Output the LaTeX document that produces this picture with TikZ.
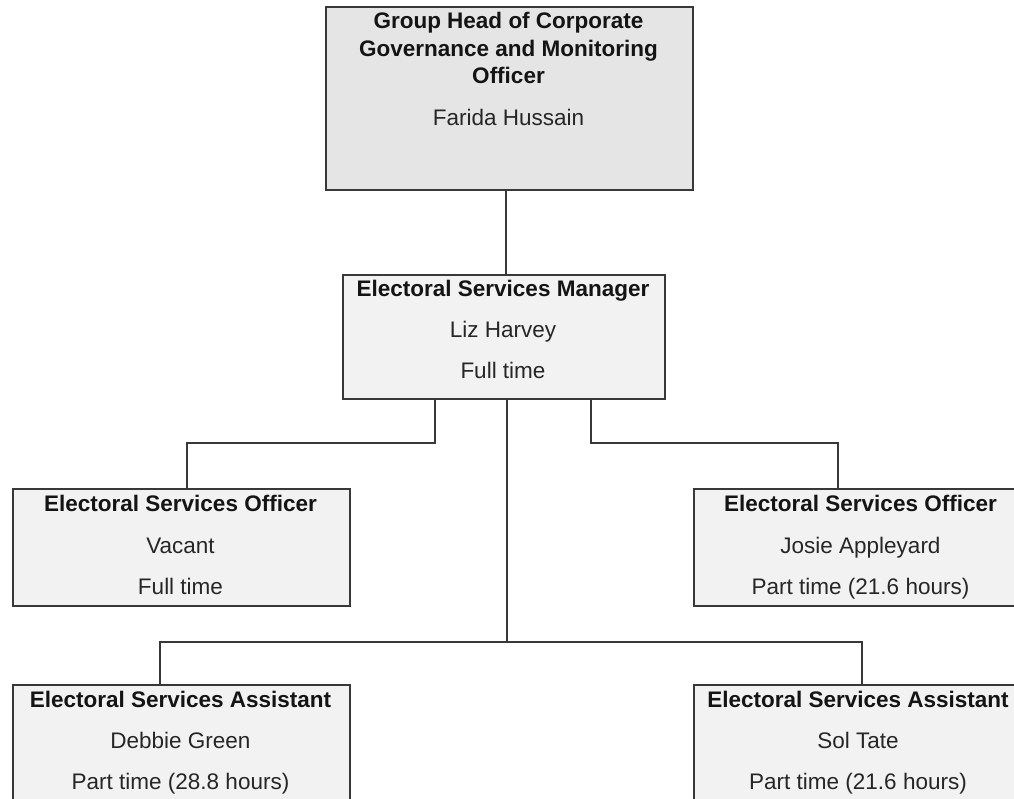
\documentclass[tikz,border=0pt]{standalone}
\usepackage{fontspec}
\setmainfont{Liberation Sans}
\begin{document}
\begin{tikzpicture}[x=1pt,y=-1pt,
  box/.style={draw=black!78, line width=1.5pt, fill=black!5, rectangle,
    inner sep=0pt, anchor=north west},
  headbox/.style={box, fill=black!10},
  conn/.style={draw=black!78, line width=1.4pt},
  ttl/.style={anchor=base, inner sep=0pt, font=\fontsize{22.5}{26}\selectfont\bfseries, text=black!92},
  txt/.style={anchor=base, inner sep=0pt, font=\fontsize{22.5}{26}\selectfont, text=black!85}]
  \clip (0,0) rectangle (1014,798);

  % boxes
  \node[headbox, minimum width=367pt, minimum height=183pt] (top) at (325,6) {};
  \node[box, minimum width=322pt, minimum height=124pt] (mgr) at (342,274) {};
  \node[box, minimum width=337pt, minimum height=117pt] (off1) at (12,488) {};
  \node[box, minimum width=337pt, minimum height=117pt] (off2) at (693,488) {};
  \node[box, minimum width=337pt, minimum height=140pt] (ast1) at (12,684) {};
  \node[box, minimum width=337pt, minimum height=140pt] (ast2) at (693,684) {};

  % texts
  \node[ttl] (topa) at (508.5,28.5) {Group Head of Corporate};
  \node[ttl] (topb) at (508.5,56) {Governance and Monitoring};
  \node[ttl] (topc) at (508.5,83) {Officer};
  \node[txt] (topd) at (508.5,125) {Farida Hussain};

  \node[ttl] (mgra) at (503,296.5) {Electoral Services Manager};
  \node[txt] (mgrb) at (503,337.5) {Liz Harvey};
  \node[txt] (mgrc) at (503,378) {Full time};

  \node[ttl] (off1a) at (180.5,511.5) {Electoral Services Officer};
  \node[txt] (off1b) at (180.5,553) {Vacant};
  \node[txt] (off1c) at (180.5,594) {Full time};

  \node[ttl] (off2a) at (860.5,511.5) {Electoral Services Officer};
  \node[txt] (off2b) at (860.5,553) {Josie Appleyard};
  \node[txt] (off2c) at (860.5,594) {Part time (21.6 hours)};

  \node[ttl] (ast1a) at (180.5,707.5) {Electoral Services Assistant};
  \node[txt] (ast1b) at (180.5,748) {Debbie Green};
  \node[txt] (ast1c) at (180.5,789) {Part time (28.8 hours)};

  \node[ttl] (ast2a) at (858,707.5) {Electoral Services Assistant};
  \node[txt] (ast2b) at (858,748) {Sol Tate};
  \node[txt] (ast2c) at (858,789) {Part time (21.6 hours)};

  % connector corner points
  \coordinate (jT) at (506,230);
  \coordinate (jL) at (435,443);
  \coordinate (dL) at (187,443);
  \coordinate (jR) at (591,443);
  \coordinate (dR) at (838,443);
  \coordinate (jC) at (507,642);
  \coordinate (aL) at (160,642);
  \coordinate (aR) at (862,642);

  % connectors
  \draw[conn] (top.south -| jT) -- (mgr.north -| jT);
  \draw[conn] (mgr.south -| jL) -- (jL) -- (dL) -- (dL |- off1.north);
  \draw[conn] (mgr.south -| jR) -- (jR) -- (dR) -- (dR |- off2.north);
  \draw[conn] (mgr.south -| jC) -- (jC);
  \draw[conn] (ast1.north -| aL) -- (aL) -- (aR) -- (aR |- ast2.north);
\end{tikzpicture}
\end{document}
